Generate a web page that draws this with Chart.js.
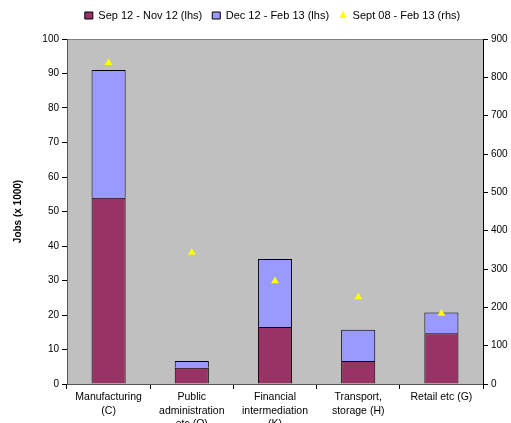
<!DOCTYPE html>
<html><head><meta charset="utf-8">
<script src="https://cdn.jsdelivr.net/npm/chart.js@4/dist/chart.umd.min.js"></script>
<style>html,body{margin:0;padding:0;background:#fff}#wrap{width:511px;height:423px}</style>
</head><body><div id="wrap"><canvas id="c" width="511" height="423"></canvas></div>
<script>
const categories = [["Manufacturing","(C)"],["Public","administration","etc (O)"],["Financial","intermediation","(K)"],["Transport,","storage (H)"],["Retail etc (G)"]];
const sepNov = [54, 4.7, 16.5, 6.7, 14.7];
const decFeb = [37, 2.0, 19.7, 9, 6];
const sept08Feb13 = [838, 343, 269, 227, 184];
const leftTicks = [0,10,20,30,40,50,60,70,80,90,100];
const rightTicks = [0,100,200,300,400,500,600,700,800,900];

const bgPlugin = {
  id:'bg',
  beforeUpdate(chart){
    const lg = chart.legend;
    if (lg && !lg._patched){
      lg._patched = true;
      const of = lg.fit, od = lg.draw;
      lg.fit = function(){ of.call(this); this.height = 39; };
      lg.draw = function(){ const c=this.ctx; c.save(); c.translate(17,0); od.call(this); c.restore(); };
    }
  },
  beforeDraw(chart){
    const {ctx, chartArea:a} = chart;
    ctx.save();
    ctx.fillStyle = '#C0C0C0';
    ctx.fillRect(a.left, a.top, a.right-a.left, a.bottom-a.top);
    ctx.strokeStyle = '#808080';
    ctx.lineWidth = 1;
    ctx.beginPath();
    ctx.moveTo(a.left, a.top+0.5); ctx.lineTo(a.right, a.top+0.5);
    ctx.stroke();
    ctx.restore();
  }
};

const font = {family:'"Liberation Sans", Arial, sans-serif', size:10};
new Chart(document.getElementById('c'), {
  type:'bar',
  data:{
    labels: categories,
    datasets:[
      {label:'Sep 12 - Nov 12 (lhs)', data:sepNov, backgroundColor:'#993366', borderColor:'#000', borderWidth:1, stack:'s', yAxisID:'y', order:2, categoryPercentage:1, barPercentage:0.41, pointStyle:'rect'},
      {label:'Dec 12 - Feb 13 (lhs)', data:decFeb, backgroundColor:'#9999FF', borderColor:'#000', borderWidth:1, stack:'s', yAxisID:'y', order:2, categoryPercentage:1, barPercentage:0.41, pointStyle:'rect'},
      {label:'Sept 08 - Feb 13 (rhs)', type:'line', data:sept08Feb13, yAxisID:'y1', showLine:false, pointStyle:'triangle', pointRadius:4.5, backgroundColor:'#FFFF00', borderColor:'#FFFF00', pointBorderWidth:0, order:1}
    ]
  },
  options:{
    responsive:false, animation:false,
    layout:{padding:{top:0,right:0,left:0,bottom:0}},
    plugins:{
      legend:{position:'top', labels:{font:{family:font.family,size:11}, color:'#000', usePointStyle:true, boxWidth:7, boxHeight:7, pointStyleWidth:8, padding:10,
        sort:(a,b)=>a.datasetIndex-b.datasetIndex,
        generateLabels(chart){
          const items = Chart.defaults.plugins.legend.labels.generateLabels(chart);
          items.forEach(it=>{ if(it.datasetIndex<2){it.strokeStyle='#000'; it.lineWidth=1;} else {it.lineWidth=0.01; it.strokeStyle='rgba(255,255,0,1)'; it.fillStyle='#FFFF00';} });
          return items;
        }}},
      tooltip:{enabled:false}
    },
    scales:{
      x:{stacked:true, offset:true,
        grid:{display:true, offset:true, drawOnChartArea:false, tickLength:5, color:'#000'},
        border:{color:'#555', width:1},
        ticks:{font:{family:font.family,size:10.5,lineHeight:1.25}, color:'#000', maxRotation:0, autoSkip:false, padding:2},
        afterFit(s){s.height=39;}
      },
      y:{stacked:true, position:'left', min:0, max:100,
        afterBuildTicks(s){s.ticks = leftTicks.map(v=>({value:v}));},
        grid:{drawOnChartArea:false, tickLength:5, color:'#000'},
        border:{color:'#555', width:1},
        ticks:{font:font, color:'#000', padding:3},
        title:{display:true, text:'Jobs (x 1000)', font:{family:font.family,size:10,weight:'bold'}, color:'#000', padding:{top:12,bottom:0}},
        afterFit(s){s.width=67;}
      },
      y1:{position:'right', min:0, max:900,
        afterBuildTicks(s){s.ticks = rightTicks.map(v=>({value:v}));},
        grid:{drawOnChartArea:false, tickLength:5, color:'#000'},
        border:{color:'#000', width:1},
        ticks:{font:font, color:'#000', padding:3},
        afterFit(s){s.width=28;}
      }
    }
  },
  plugins:[bgPlugin]
});
</script></body></html>
